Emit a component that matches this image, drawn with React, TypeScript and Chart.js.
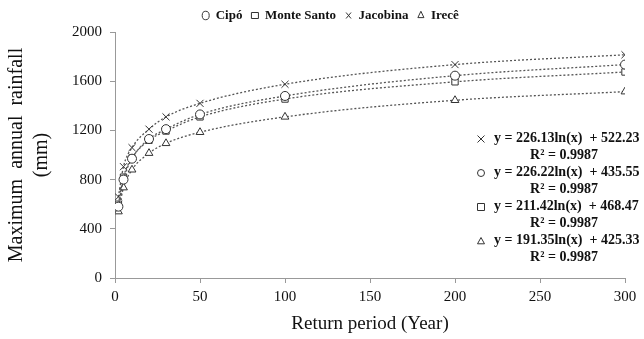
import React, { useEffect, useRef } from "react";
import { Chart, registerables } from "chart.js";

Chart.register(...registerables);

const returnPeriods = [2, 5, 10, 20, 30, 50, 100, 200, 300];
const cipo = [580, 800, 970, 1130, 1210, 1330, 1480, 1645, 1735];
const monteSanto = [600, 820, 975, 1120, 1195, 1310, 1455, 1595, 1675];
const jacobina = [660, 905, 1060, 1210, 1310, 1420, 1575, 1735, 1815];
const irece = [540, 735, 880, 1015, 1095, 1185, 1310, 1445, 1515];

const seriesNames = ["Cipó", "Monte Santo", "Jacobina", "Irecê"];
const seriesStyles = ["circle", "rect", "crossRot", "triangle"];

const equationSymbols = ["crossRot", "circle", "rect", "triangle"];
const equations = [
  "y = 226.13ln(x)  + 522.23",
  "y = 226.22ln(x)  + 435.55",
  "y = 211.42ln(x)  + 468.47",
  "y = 191.35ln(x)  + 425.33",
];
const rSquared = ["R² = 0.9987", "R² = 0.9987", "R² = 0.9987", "R² = 0.9987"];

const xTitle = "Return period (Year)";
const yTitle = ["Maximum  annual  rainfall", "(mm)"];

const FONT = "'Liberation Serif', 'Times New Roman', serif";
const INK = "#333";

function drawSymbol(ctx: CanvasRenderingContext2D, style: string, x: number, y: number, r: number) {
  ctx.save();
  ctx.strokeStyle = INK;
  ctx.fillStyle = "#fff";
  ctx.lineWidth = 1;
  ctx.beginPath();
  if (style === "circle") {
    ctx.arc(x, y, r, 0, Math.PI * 2);
    ctx.fill();
    ctx.stroke();
  } else if (style === "rect") {
    ctx.rect(x - r, y - r, r * 2, r * 2);
    ctx.fill();
    ctx.stroke();
  } else if (style === "triangle") {
    ctx.moveTo(x, y - r);
    ctx.lineTo(x + r, y + r * 0.8);
    ctx.lineTo(x - r, y + r * 0.8);
    ctx.closePath();
    ctx.fill();
    ctx.stroke();
  } else {
    ctx.moveTo(x - r, y - r);
    ctx.lineTo(x + r, y + r);
    ctx.moveTo(x + r, y - r);
    ctx.lineTo(x - r, y + r);
    ctx.stroke();
  }
  ctx.restore();
}

const equationPlugin = {
  id: "equations",
  afterLayout(chart: any) {
    if (chart.legend) {
      chart.legend.left += 16;
      chart.legend.right += 16;
    }
  },
  afterDatasetsDraw(chart: any) {
    const { ctx, chartArea } = chart;
    const eqX = chartArea.right - 131;
    const symX = chartArea.right - 144;
    const rX = chartArea.right - 61;
    let y = chartArea.top + 106;
    const step = 17;
    ctx.save();
    ctx.fillStyle = "#111";
    ctx.textBaseline = "middle";
    for (let i = 0; i < equations.length; i++) {
      drawSymbol(ctx, equationSymbols[i], symX, y + 1, 3.5);
      ctx.font = `bold 14px ${FONT}`;
      ctx.textAlign = "left";
      ctx.fillText(equations[i], eqX, y);
      y += step;
      ctx.textAlign = "center";
      ctx.fillText(rSquared[i], rX, y);
      y += step;
    }
    ctx.restore();
  },
};

export default function App() {
  const ref = useRef<HTMLCanvasElement | null>(null);

  useEffect(() => {
    if (!ref.current) return;
    const values = [cipo, monteSanto, jacobina, irece];
    const datasets = values.map((vals, i) => ({
      label: seriesNames[i],
      data: returnPeriods.map((x, j) => ({ x, y: vals[j] })),
      showLine: true,
      borderColor: "#555",
      borderWidth: 1.3,
      borderDash: [2, 2],
      cubicInterpolationMode: "monotone" as const,
      pointStyle: seriesStyles[i],
      pointRadius: seriesStyles[i] === "crossRot" ? 5 : 4.5,
      pointBorderColor: INK,
      pointBackgroundColor: "#fff",
      pointBorderWidth: 1,
      backgroundColor: "#fff",
    }));

    const chart = new Chart(ref.current, {
      type: "scatter",
      data: { datasets },
      options: {
        responsive: false,
        animation: false,
        layout: { padding: { left: 4, right: 19, top: 0, bottom: 4 } },
        plugins: {
          legend: {
            display: true,
            position: "top",
            labels: {
              usePointStyle: true,
              pointStyleWidth: 7,
              boxWidth: 6,
              boxHeight: 6,
              padding: 9,
              color: "#111",
              font: { family: FONT, size: 13, weight: "bold" },
            },
          },
          tooltip: { enabled: false },
        },
        scales: {
          x: {
            type: "linear",
            min: 0,
            max: 300,
            afterFit: (s: any) => {
              s.height = 57;
            },
            ticks: {
              stepSize: 50,
              color: "#111",
              font: { family: FONT, size: 15 },
              padding: 5,
              callback: (v: any) => String(v),
            },
            grid: { display: true, drawOnChartArea: false, drawTicks: true, tickLength: 5, color: "#999" },
            border: { color: "#999" },
            title: {
              display: true,
              text: xTitle,
              color: "#111",
              font: { family: FONT, size: 19 },
              padding: { top: 2, bottom: 0 },
            },
          },
          y: {
            type: "linear",
            min: 0,
            max: 2000,
            afterFit: (s: any) => {
              s.width = 111;
            },
            ticks: {
              stepSize: 400,
              color: "#111",
              font: { family: FONT, size: 15 },
              padding: 8,
              callback: (v: any) => String(v),
            },
            grid: { display: true, drawOnChartArea: false, drawTicks: true, tickLength: 5, color: "#999" },
            border: { color: "#999" },
            title: {
              display: true,
              text: yTitle,
              color: "#111",
              font: { family: FONT, size: 20, lineHeight: 1.25 },
              padding: { top: 0, bottom: 10 },
            },
          },
        },
      },
      plugins: [equationPlugin],
    });
    return () => chart.destroy();
  }, []);

  return (
    <div style={{ position: "fixed", left: 0, top: 0, width: 644, height: 339, background: "#fff" }}>
      <canvas ref={ref} width={644} height={339} />
    </div>
  );
}
